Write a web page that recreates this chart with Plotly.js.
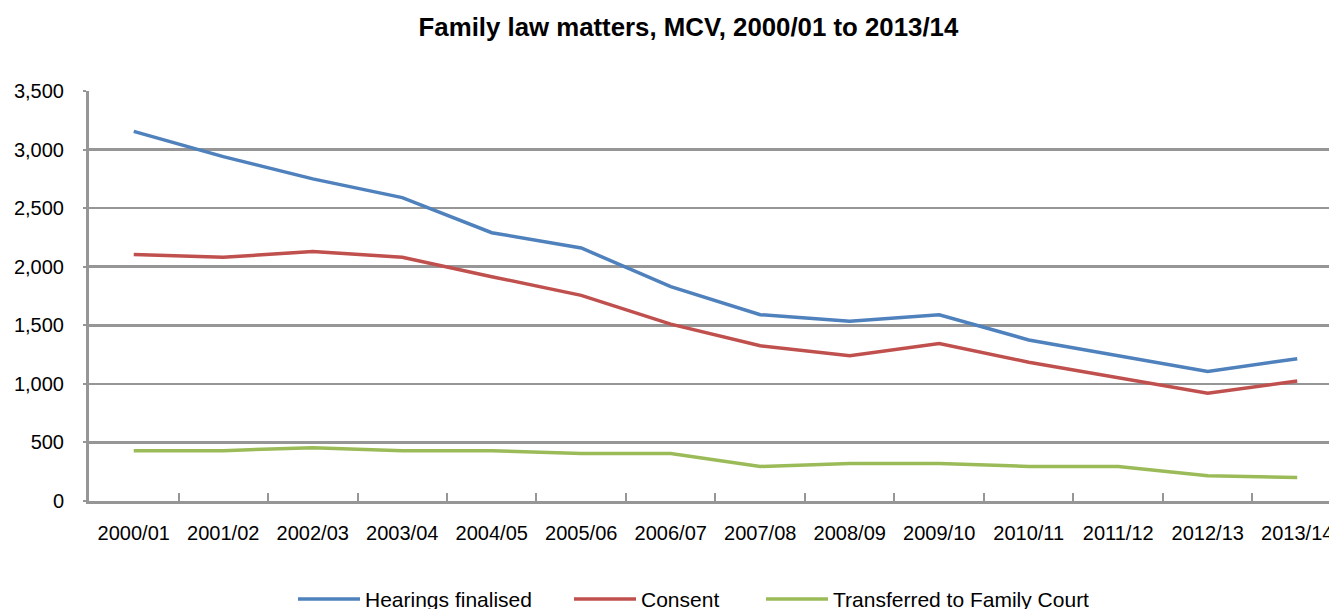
<!DOCTYPE html>
<html>
<head>
<meta charset="utf-8">
<script src="https://cdn.plot.ly/plotly-3.0.1.min.js"></script>
<style>html,body{margin:0;padding:0;background:#fff;}#chart{width:1329px;height:609px;}</style>
</head>
<body>
<div id="chart"></div>
<script>
const categories = ["2000/01","2001/02","2002/03","2003/04","2004/05","2005/06","2006/07","2007/08","2008/09","2009/10","2010/11","2011/12","2012/13","2013/14"];
const hearingsFinalised = [3155, 2940, 2750, 2590, 2290, 2160, 1830, 1590, 1535, 1590, 1375, 1240, 1105, 1215];
const consent = [2105, 2080, 2130, 2080, 1915, 1755, 1510, 1325, 1240, 1345, 1185, 1055, 920, 1025];
const transferred = [430, 430, 455, 430, 430, 405, 405, 295, 320, 320, 295, 295, 215, 200];
const yTicks = [0, 500, 1000, 1500, 2000, 2500, 3000, 3500];

const FONT = "'Liberation Sans Narrow', 'Arial Narrow', 'Liberation Sans', Arial, sans-serif";
const GRID = "#969696";

function line(name, y, color, legendId) {
  return {type: "scatter", mode: "lines", name: name, x: categories, y: y,
          legend: legendId, line: {color: color, width: 3.5}, hoverinfo: "x+y+name"};
}

const data = [
  line("Hearings finalised", hearingsFinalised, "#4F81BD", "legend"),
  line("Consent", consent, "#C0504D", "legend2"),
  line("Transferred to Family Court", transferred, "#9BBB59", "legend3")
];

function legendAt(xPx) {
  return {orientation: "h", x: xPx / 1329, xanchor: "left", xref: "container",
          y: -0.24, yanchor: "middle", itemwidth: 62,
          font: {family: FONT, size: 21, color: "#000"}, bgcolor: "rgba(0,0,0,0)"};
}

const layout = {
  width: 1329, height: 609,
  margin: {l: 89, r: 0, t: 91, b: 108, autoexpand: false},
  paper_bgcolor: "#fff", plot_bgcolor: "#fff",
  font: {family: FONT, size: 20, color: "#000"},
  title: {text: "<b>Family law matters, MCV, 2000/01 to 2013/14</b>",
          font: {family: FONT, size: 25.8, color: "#000"},
          x: 0.518, xanchor: "center", xref: "container",
          y: 0.955, yanchor: "middle", yref: "container"},
  xaxis: {type: "category", range: [-0.5, 13.355], showgrid: false, zeroline: false,
          showline: true, linecolor: GRID, linewidth: 3, tickangle: 0,
          ticks: "inside", tickson: "boundaries", ticklen: 8, tickwidth: 2, tickcolor: GRID,
          ticklabelstandoff: 12, tickfont: {family: FONT, size: 20, color: "#000"}},
  yaxis: {range: [0, 3500], tickvals: yTicks, tickformat: ",", showgrid: true,
          gridcolor: GRID, gridwidth: 2.5, zeroline: false,
          showline: true, linecolor: GRID, linewidth: 3,
          ticks: "outside", ticklen: 3, tickwidth: 2, tickcolor: GRID,
          ticklabelstandoff: 15, tickfont: {family: FONT, size: 20, color: "#000"}},
  showlegend: true,
  legend: legendAt(293),
  legend2: legendAt(569),
  legend3: legendAt(761)
};

Plotly.newPlot("chart", data, layout, {displayModeBar: false, staticPlot: true});
</script>
</body>
</html>
